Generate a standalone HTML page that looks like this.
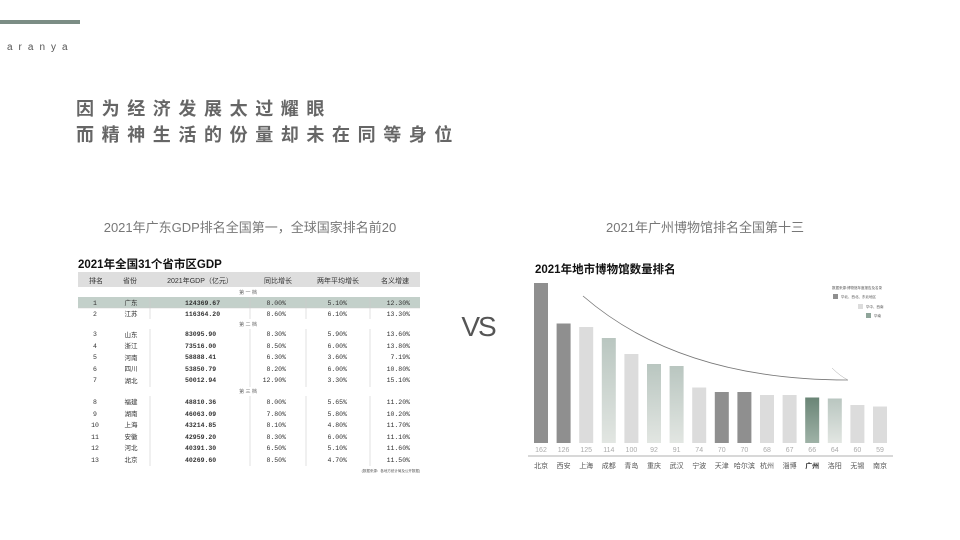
<!DOCTYPE html>
<html><head><meta charset="utf-8"><style>
html,body{margin:0;padding:0;background:#fff;}
svg{display:block;font-family:"Liberation Sans","Noto Sans CJK SC",sans-serif;}
</style></head><body>
<svg width="960" height="540" viewBox="0 0 960 540" xmlns="http://www.w3.org/2000/svg">
<defs>
<linearGradient id="g1" x1="0" y1="0" x2="0" y2="1"><stop offset="0" stop-color="#b9c6c0"/><stop offset="1" stop-color="#e2e6e2"/></linearGradient>
<linearGradient id="g2" x1="0" y1="0" x2="0" y2="1"><stop offset="0" stop-color="#6a8576"/><stop offset="1" stop-color="#9fb2a7"/></linearGradient>
</defs>
<rect x="0" y="20" width="80" height="4" fill="#7b8d85"/>
<text x="7" y="50" font-size="10" fill="#555" letter-spacing="6">aranya</text>
<g font-size="18" font-weight="bold" fill="#666">
<text x="76" y="115" letter-spacing="7.6">因为经济发展太过耀眼</text>
<text x="76" y="141" letter-spacing="7.6">而精神生活的份量却未在同等身位</text>
</g>
<text x="250" y="232" font-size="13" fill="#777" text-anchor="middle">2021年广东GDP排名全国第一，全球国家排名前20</text>
<text x="705" y="232" font-size="13" fill="#777" text-anchor="middle">2021年广州博物馆排名全国第十三</text>
<text x="478" y="336" font-size="28" fill="#555" text-anchor="middle" letter-spacing="-2">VS</text>

<!-- table -->
<text x="78" y="268" font-size="11.5" font-weight="bold" fill="#111">2021年全国31个省市区GDP</text>
<rect x="78" y="272" width="342" height="15" fill="#dedede"/>
<g font-size="7" fill="#333" text-anchor="middle">
<text x="96" y="283">排名</text><text x="130" y="283">省份</text><text x="200" y="283">2021年GDP（亿元）</text><text x="278" y="283">同比增长</text><text x="338" y="283">两年平均增长</text><text x="395" y="283">名义增速</text>
</g>
<rect x="78" y="297" width="342" height="11" fill="#c3d0ca"/>
<g stroke="#ccc" stroke-width="0.6">
<line x1="150" y1="297" x2="150" y2="319"/><line x1="250" y1="297" x2="250" y2="319"/><line x1="306" y1="297" x2="306" y2="319"/><line x1="370" y1="297" x2="370" y2="319"/>
<line x1="150" y1="329" x2="150" y2="387"/><line x1="250" y1="329" x2="250" y2="387"/><line x1="306" y1="329" x2="306" y2="387"/><line x1="370" y1="329" x2="370" y2="387"/>
<line x1="150" y1="396" x2="150" y2="466"/><line x1="250" y1="396" x2="250" y2="466"/><line x1="306" y1="396" x2="306" y2="466"/><line x1="370" y1="396" x2="370" y2="466"/>
<line x1="78" y1="308" x2="420" y2="308"/>
</g>
<g font-size="5" fill="#666" text-anchor="middle">
<text x="248" y="294">第 一 档</text><text x="248" y="326">第 二 档</text><text x="248" y="393">第 三 档</text>
</g>
<g font-size="6.5" fill="#333" font-family="Liberation Mono,Noto Sans CJK SC,monospace">
<g text-anchor="middle">
<text x="95" y="305">1</text><text x="95" y="316">2</text>
<text x="95" y="336">3</text><text x="95" y="348">4</text><text x="95" y="359">5</text><text x="95" y="371">6</text><text x="95" y="382">7</text>
<text x="95" y="404">8</text><text x="95" y="416">9</text><text x="95" y="427">10</text><text x="95" y="439">11</text><text x="95" y="450">12</text><text x="95" y="462">13</text>
<text x="131" y="305">广东</text><text x="131" y="316">江苏</text>
<text x="131" y="337">山东</text><text x="131" y="348">浙江</text><text x="131" y="360">河南</text><text x="131" y="371">四川</text><text x="131" y="383">湖北</text>
<text x="131" y="404">福建</text><text x="131" y="416">湖南</text><text x="131" y="427">上海</text><text x="131" y="439">安徽</text><text x="131" y="450">河北</text><text x="131" y="462">北京</text>
</g>
<g font-weight="bold">
<text x="185" y="305">124369.67</text><text x="185" y="316">116364.20</text>
<text x="185" y="336">83095.90</text><text x="185" y="348">73516.00</text><text x="185" y="359">58888.41</text><text x="185" y="371">53850.79</text><text x="185" y="382">50012.94</text>
<text x="185" y="404">48810.36</text><text x="185" y="416">46063.09</text><text x="185" y="427">43214.85</text><text x="185" y="439">42959.20</text><text x="185" y="450">40391.30</text><text x="185" y="462">40269.60</text>
</g>
<g text-anchor="end">
<text x="286" y="305">8.00%</text><text x="286" y="316">8.60%</text>
<text x="286" y="336">8.30%</text><text x="286" y="348">8.50%</text><text x="286" y="359">6.30%</text><text x="286" y="371">8.20%</text><text x="286" y="382">12.90%</text>
<text x="286" y="404">8.00%</text><text x="286" y="416">7.80%</text><text x="286" y="427">8.10%</text><text x="286" y="439">8.30%</text><text x="286" y="450">6.50%</text><text x="286" y="462">8.50%</text>
<text x="347" y="305">5.10%</text><text x="347" y="316">6.10%</text>
<text x="347" y="336">5.90%</text><text x="347" y="348">6.00%</text><text x="347" y="359">3.60%</text><text x="347" y="371">6.00%</text><text x="347" y="382">3.30%</text>
<text x="347" y="404">5.65%</text><text x="347" y="416">5.80%</text><text x="347" y="427">4.80%</text><text x="347" y="439">6.00%</text><text x="347" y="450">5.10%</text><text x="347" y="462">4.70%</text>
<text x="410" y="305">12.30%</text><text x="410" y="316">13.30%</text>
<text x="410" y="336">13.60%</text><text x="410" y="348">13.80%</text><text x="410" y="359">7.19%</text><text x="410" y="371">10.80%</text><text x="410" y="382">15.10%</text>
<text x="410" y="404">11.20%</text><text x="410" y="416">10.20%</text><text x="410" y="427">11.70%</text><text x="410" y="439">11.10%</text><text x="410" y="450">11.60%</text><text x="410" y="462">11.50%</text>
</g>
</g>
<text x="420" y="472" font-size="3.5" fill="#555" text-anchor="end">(数据来源：各地方统计局及公开数据)</text>

<!-- bar chart -->
<text x="535" y="273" font-size="11.5" font-weight="bold" fill="#111">2021年地市博物馆数量排名</text>
<g>
<rect x="534" y="283" width="14" height="160" fill="#8f8f8f"/>
<rect x="556.6" y="323.5" width="14" height="119.5" fill="#8f8f8f"/>
<rect x="579.2" y="327" width="14" height="116" fill="#dcdcdc"/>
<rect x="601.8" y="338" width="14" height="105" fill="url(#g1)"/>
<rect x="624.4" y="354" width="14" height="89" fill="#dcdcdc"/>
<rect x="647" y="364" width="14" height="79" fill="url(#g1)"/>
<rect x="669.6" y="366" width="14" height="77" fill="url(#g1)"/>
<rect x="692.2" y="387.5" width="14" height="55.5" fill="#dcdcdc"/>
<rect x="714.8" y="392" width="14" height="51" fill="#8f8f8f"/>
<rect x="737.4" y="392" width="14" height="51" fill="#8f8f8f"/>
<rect x="760" y="395" width="14" height="48" fill="#dcdcdc"/>
<rect x="782.6" y="395" width="14" height="48" fill="#dcdcdc"/>
<rect x="805.2" y="397.5" width="14" height="45.5" fill="url(#g2)"/>
<rect x="827.8" y="398.5" width="14" height="44.5" fill="url(#g1)"/>
<rect x="850.4" y="405" width="14" height="38" fill="#dcdcdc"/>
<rect x="873" y="406.5" width="14" height="36.5" fill="#dcdcdc"/>
</g>
<path d="M583 296 Q680 380 848 380" fill="none" stroke="#777" stroke-width="0.8"/>
<path d="M832 368 Q840 376 848 380" fill="none" stroke="#aaa" stroke-width="0.5"/>
<line x1="528" y1="456" x2="893" y2="456" stroke="#999" stroke-width="0.7"/>
<g font-size="7" fill="#aaa" text-anchor="middle">
<text x="541" y="452">162</text><text x="563.6" y="452">126</text><text x="586.2" y="452">125</text><text x="608.8" y="452">114</text><text x="631.4" y="452">100</text><text x="654" y="452">92</text><text x="676.6" y="452">91</text><text x="699.2" y="452">74</text><text x="721.8" y="452">70</text><text x="744.4" y="452">70</text><text x="767" y="452">68</text><text x="789.6" y="452">67</text><text x="812.2" y="452">66</text><text x="834.8" y="452">64</text><text x="857.4" y="452">60</text><text x="880" y="452">59</text>
</g>
<g font-size="7" fill="#555" text-anchor="middle">
<text x="541" y="468">北京</text><text x="563.6" y="468">西安</text><text x="586.2" y="468">上海</text><text x="608.8" y="468">成都</text><text x="631.4" y="468">青岛</text><text x="654" y="468">重庆</text><text x="676.6" y="468">武汉</text><text x="699.2" y="468">宁波</text><text x="721.8" y="468">天津</text><text x="744.4" y="468">哈尔滨</text><text x="767" y="468">杭州</text><text x="789.6" y="468">淄博</text><text x="812.2" y="468" font-weight="bold" fill="#333">广州</text><text x="834.8" y="468">洛阳</text><text x="857.4" y="468">无锡</text><text x="880" y="468">南京</text>
</g>
<g font-size="3.5" fill="#555">
<text x="832" y="289">数据来源:博物馆年度报告及名录</text>
<rect x="833" y="294" width="5" height="5" fill="#8f8f8f"/><text x="841" y="298">华北、西北、东北地区</text>
<rect x="858" y="304" width="5" height="5" fill="#dcdcdc"/><text x="866" y="308">华中、西南</text>
<rect x="866" y="313" width="5" height="5" fill="#8fa59a"/><text x="874" y="317">华南</text>
</g>
</svg>
</body></html>
